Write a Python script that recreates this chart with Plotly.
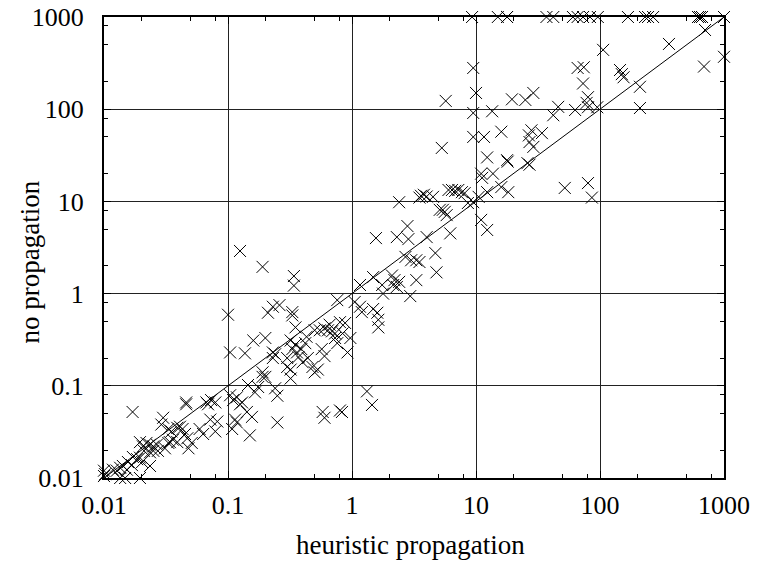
import plotly.graph_objects as go

# heuristic propagation (x) vs no propagation (y), seconds
top_x = [9.3, 15, 17.8, 17.8, 37, 42, 60.5, 66, 73, 83, 96, 168, 231, 244, 268, 617, 640, 665, 1000, 1000, 1000]
top_y = [1000] * len(top_x)

hi_x = [703, 360, 106, 1000, 690, 145, 150, 155, 210, 210,
        66, 74, 73, 80, 78, 80, 95, 63, 46, 42, 29, 25, 19.5, 13.5, 9.5, 10, 9.5, 5.7, 5.3, 9.5, 11.6, 16,
        28, 26.7, 27, 29, 34, 12.3, 17.8, 18, 26, 27, 11, 11.2, 13.7, 16, 18.2, 12.3, 10.5, 52, 80, 86,
        6.4, 7.2, 7.7, 8.1, 8.6, 9.5, 11, 12.3, 6.2, 5.4]
hi_y = [723, 510, 440, 370, 290, 266, 240, 222, 175, 103,
        280, 285, 190, 135, 117, 105, 105, 98, 106, 86, 150, 126, 128, 95, 91, 150, 280, 123, 38, 50, 50, 57,
        59, 52, 44, 39, 55, 30, 28, 27, 26, 25, 20, 18, 20, 14.3, 12.6, 12.6, 11.2, 14, 15.8, 11,
        13.3, 13.3, 12.6, 12.3, 9.6, 9.8, 6.3, 4.9, 4.5, 8.1]

mid_x = [2.4, 3.6, 3.8, 4.0, 3.5, 4.5, 6.0, 6.8, 5.1, 5.6, 5.8, 1.56, 2.3, 2.8, 2.85, 4.0, 4.7, 2.7, 3.0,
         3.3, 3.5, 4.8, 3.3, 1.48, 2.1, 2.2, 2.4, 2.15, 2.3, 1.75, 1.78, 2.95, 1.16, 1.05, 1.16, 1.2, 1.48,
         1.6, 1.63, 1.63, 0.88, 0.97, 0.84, 1.32, 1.45]
mid_y = [9.8, 11.5, 11.8, 11.3, 11, 11.2, 13.3, 13.0, 8.1, 7.7, 7.1, 4.0, 4.1, 5.4, 3.9, 4.1, 2.75, 2.5, 2.3,
         2.3, 2.2, 1.7, 1.4, 1.51, 1.57, 1.4, 1.34, 1.24, 1.18, 1.24, 1.0, 0.94, 1.24, 0.81, 0.72, 0.63, 0.68,
         0.62, 0.52, 0.43, 0.48, 0.33, 0.37, 0.087, 0.062]

low_x = [0.125, 0.19, 0.34, 0.34, 0.1, 0.21, 0.23, 0.26, 0.33, 0.33, 0.35, 0.76, 0.16, 0.2, 0.104, 0.137,
         0.23, 0.24, 0.23, 0.32, 0.35, 0.36, 0.39, 0.42, 0.43, 0.5, 0.55, 0.6, 0.64, 0.69, 0.73, 0.8, 0.66,
         0.73, 0.76, 0.92, 0.33, 0.3, 0.37, 0.40, 0.44, 0.48, 0.5, 0.53, 0.57, 0.6, 0.3, 0.32, 0.32, 0.19,
         0.2, 0.19, 0.145, 0.175, 0.165, 0.24, 0.25, 0.104, 0.11, 0.118, 0.13, 0.125, 0.142, 0.156, 0.114,
         0.118, 0.108, 0.15, 0.25, 0.58, 0.6, 0.8, 0.83]
low_y = [2.9, 1.95, 1.55, 1.22, 0.59, 0.62, 0.72, 0.75, 0.63, 0.58, 0.43, 0.85, 0.31, 0.33, 0.23, 0.225,
         0.23, 0.22, 0.2, 0.31, 0.28, 0.23, 0.25, 0.29, 0.34, 0.40, 0.40, 0.42, 0.40, 0.39, 0.37, 0.49, 0.46,
         0.33, 0.29, 0.23, 0.25, 0.2, 0.205, 0.18, 0.2, 0.16, 0.14, 0.15, 0.25, 0.21, 0.16, 0.15, 0.12, 0.14,
         0.125, 0.125, 0.102, 0.097, 0.085, 0.094, 0.078, 0.079, 0.07, 0.075, 0.066, 0.063, 0.052, 0.046, 0.043,
         0.04, 0.034, 0.029, 0.04, 0.052, 0.045, 0.054, 0.052]

tiny_x = [0.017, 0.03, 0.046, 0.046, 0.067, 0.073, 0.079, 0.069, 0.029, 0.033, 0.035, 0.039, 0.041, 0.043,
          0.045, 0.047, 0.051, 0.048, 0.059, 0.063, 0.072, 0.079, 0.082,
          0.0195, 0.0206, 0.022, 0.0235, 0.025, 0.0267, 0.021, 0.0235, 0.025, 0.0272, 0.031, 0.033, 0.034,
          0.036, 0.039, 0.0171, 0.0185, 0.0156, 0.0168, 0.0142, 0.0153, 0.0135, 0.0127, 0.0118, 0.0195,
          0.0203, 0.0235, 0.01, 0.0102, 0.01, 0.0135, 0.0148, 0.0195]
tiny_y = [0.052, 0.045, 0.066, 0.063, 0.066, 0.07, 0.066, 0.063, 0.038, 0.034, 0.032, 0.035, 0.036, 0.034,
          0.030, 0.027, 0.024, 0.021, 0.034, 0.030, 0.043, 0.032, 0.041,
          0.0245, 0.022, 0.024, 0.023, 0.022, 0.023, 0.0197, 0.019, 0.0197, 0.0197, 0.021, 0.024, 0.0245,
          0.026, 0.0245, 0.0169, 0.016, 0.0149, 0.0138, 0.0135, 0.0123, 0.0129, 0.012, 0.0123, 0.0166,
          0.0149, 0.0135, 0.012, 0.011, 0.0105, 0.01, 0.01, 0.01]

heuristic = top_x + hi_x + mid_x + low_x + tiny_x
noprop = top_y + hi_y + mid_y + low_y + tiny_y

diag = [0.01, 1000]
tick_vals = [0.01, 0.1, 1, 10, 100, 1000]
tick_text = ["0.01", "0.1", "1", "10", "100", "1000"]
minor_vals = [m * 10 ** e for e in range(-2, 3) for m in (2, 5, 8)]
x_title = "heuristic propagation"
y_title = "no propagation"

FONT = '"Liberation Serif", "Times New Roman", Times, serif'

fig = go.Figure()
fig.add_trace(go.Scatter(x=diag, y=diag, mode="lines",
                         line=dict(color="black", width=1), showlegend=False, hoverinfo="skip"))
fig.add_trace(go.Scatter(x=heuristic, y=noprop, mode="markers", cliponaxis=False,
                         marker=dict(symbol="x-thin", size=12, color="black",
                                     line=dict(width=1, color="black")),
                         showlegend=False))

axis_common = dict(
    type="log", range=[-2, 3], automargin=False,
    tickmode="array", tickvals=tick_vals, ticktext=tick_text,
    showgrid=True, gridcolor="#222", gridwidth=1,
    showline=True, linecolor="black", linewidth=2, mirror="allticks",
    ticks="inside", ticklen=7, tickcolor="black", tickwidth=1,
    minor=dict(tickvals=minor_vals, ticks="inside", ticklen=4, tickcolor="black", showgrid=False),
    tickfont=dict(family=FONT, size=26, color="black"),
    ticklabeloverflow="allow",
    zeroline=False,
)

fig.update_layout(
    width=757, height=569,
    margin=dict(l=104, r=33, t=17, b=91, autoexpand=False),
    paper_bgcolor="white", plot_bgcolor="white",
    font=dict(family=FONT, color="black"),
    xaxis=dict(axis_common, ticklabelstandoff=3),
    yaxis=dict(axis_common, ticklabelstandoff=13),
    annotations=[
        dict(text=x_title, xref="paper", yref="paper", x=0.495, y=-0.145,
             xanchor="center", yanchor="middle", showarrow=False,
             font=dict(family=FONT, size=27, color="black")),
        dict(text=y_title, xref="paper", yref="paper", x=-0.119, y=0.468, textangle=-90,
             xanchor="center", yanchor="middle", showarrow=False,
             font=dict(family=FONT, size=27, color="black")),
    ],
)

# the page's default 8px body margin would shift the chart; remove it
fig.write_html("out.html", config={"displayModeBar": False},
               post_script="document.body.style.margin='0';")
